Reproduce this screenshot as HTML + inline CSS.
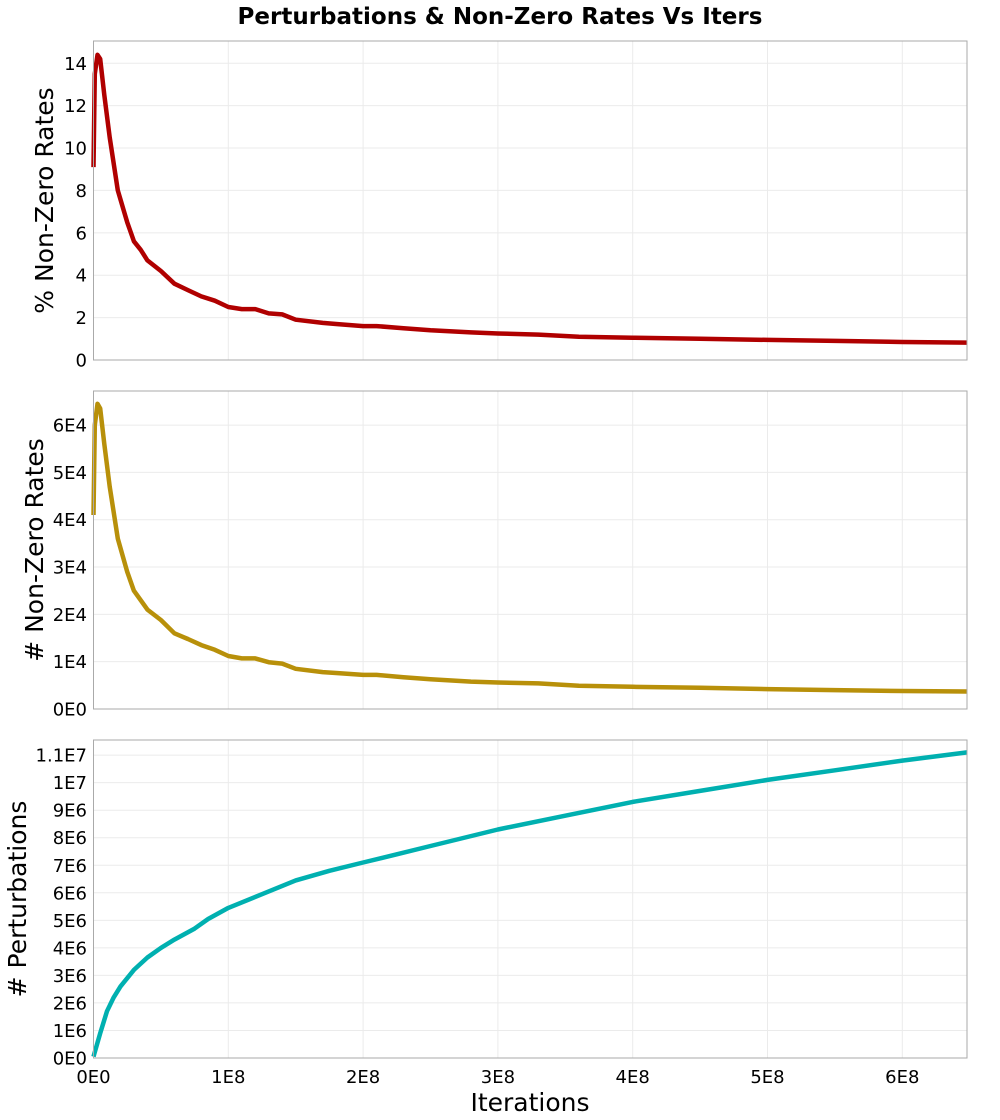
<!DOCTYPE html>
<html><head><meta charset="utf-8"><style>
body{margin:0;background:#fff;}
svg{display:block;font-family:"DejaVu Sans","Liberation Sans",sans-serif;}
</style></head><body>
<svg id="chart" width="1000" height="1120"></svg>
<script>
const xTicks=[0,1,2,3,4,5,6];
const xTickLabels=["0E0","1E8","2E8","3E8","4E8","5E8","6E8"];
const iters=[0,0.01,0.03,0.05,0.08,0.12,0.18,0.25,0.3,0.35,0.4,0.5,0.6,0.7,0.8,0.9,1.0,1.1,1.2,1.3,1.4,1.5,1.7,1.8,2.0,2.1,2.3,2.5,2.8,3.0,3.3,3.6,4.0,4.5,5.0,5.5,6.0,6.48];
const pctRates=[9.1,13.5,14.4,14.2,12.5,10.5,8.0,6.5,5.6,5.2,4.7,4.2,3.6,3.3,3.0,2.8,2.5,2.4,2.4,2.2,2.15,1.9,1.75,1.7,1.6,1.6,1.5,1.4,1.3,1.25,1.2,1.1,1.05,1.0,0.95,0.9,0.85,0.82];
const numRates=[4.1,6.0,6.45,6.35,5.6,4.7,3.6,2.9,2.5,2.3,2.1,1.88,1.6,1.48,1.35,1.25,1.12,1.07,1.07,0.99,0.96,0.85,0.78,0.76,0.72,0.72,0.67,0.63,0.58,0.56,0.54,0.49,0.47,0.45,0.42,0.40,0.38,0.37];
const pertIters=[0,0.05,0.1,0.15,0.2,0.3,0.4,0.5,0.6,0.75,0.85,1.0,1.25,1.5,1.75,2.0,2.25,2.5,3.0,3.5,4.0,4.5,5.0,5.5,6.0,6.48];
const perturbations=[0.05,0.9,1.7,2.2,2.6,3.2,3.65,4.0,4.3,4.7,5.05,5.45,5.95,6.45,6.8,7.1,7.4,7.7,8.3,8.8,9.3,9.7,10.1,10.45,10.8,11.1];
const yTicks1=[0,2,4,6,8,10,12,14];
const yTicks2=[0,1,2,3,4,5,6];
const yTicks3=[0,1,2,3,4,5,6,7,8,9,10,11];

const NS="http://www.w3.org/2000/svg";
const svg=document.getElementById('chart');
const L=93.5,R=967,XMAX=6.48;
const sx=v=>L+(R-L)*v/XMAX;
function mk(t,a,p){const e=document.createElementNS(NS,t);for(const k in a)e.setAttribute(k,a[k]);(p||svg).appendChild(e);return e;}

function panel(name,top,bot,ymax,ticks,fmt,xs,ys,color,title,titleX,showX){
  const g=mk('g',{});
  
  
  const sy=v=>bot-(bot-top)*v/ymax;
  xTicks.forEach(t=>{const l=mk('line',{x1:sx(t),x2:sx(t),y1:top,y2:bot,stroke:'#ebebeb','stroke-width':1},g);
    });
  ticks.forEach(t=>{const l=mk('line',{x1:L,x2:R,y1:sy(t),y2:sy(t),stroke:'#ebebeb','stroke-width':1},g);
    
    const tx=mk('text',{x:87,y:sy(t)+6.5,'text-anchor':'end','font-size':18,fill:'#000'},g);tx.textContent=fmt(t);
    });
  const pts=xs.map((x,i)=>sx(x).toFixed(1)+','+sy(ys[i]).toFixed(1)).join(' ');
  const pl=mk('polyline',{points:pts,fill:'none',stroke:color,'stroke-width':4.5,'stroke-linejoin':'round'},g);
  
  const fr=mk('rect',{x:L,y:top,width:R-L,height:bot-top,fill:'none',stroke:'#aaa','stroke-width':1},g);
  
  const cy=(top+bot)/2;
  const yt=mk('text',{x:titleX,y:cy,'text-anchor':'middle','font-size':25,transform:`rotate(-90 ${titleX} ${cy})`},g);
  yt.textContent=title;
  if(showX){xTicks.forEach((t,i)=>{const tx=mk('text',{x:sx(t),y:bot+25,'text-anchor':'middle','font-size':18},g);tx.textContent=xTickLabels[i];
    });}
}
const tt=mk('text',{x:500,y:24,'text-anchor':'middle','font-size':23,'font-weight':'bold'});
tt.textContent='Perturbations & Non-Zero Rates Vs Iters';

panel('panel-pct-rates',41,360,15.05,yTicks1,t=>String(t),iters,pctRates,'#b00000','% Non-Zero Rates',53,false);
panel('panel-num-rates',391,709,6.72,yTicks2,t=>t+'E'+(t?4:0),iters,numRates,'#b8900a','# Non-Zero Rates',43,false);
panel('panel-perturbations',740,1058,11.55,yTicks3,t=>t==0?'0E0':t==10?'1E7':t==11?'1.1E7':t+'E6',pertIters,perturbations,'#00b0b0','# Perturbations',26,true);
const xt=mk('text',{x:530,y:1111,'text-anchor':'middle','font-size':25});
xt.textContent='Iterations';
</script>
</body></html>
